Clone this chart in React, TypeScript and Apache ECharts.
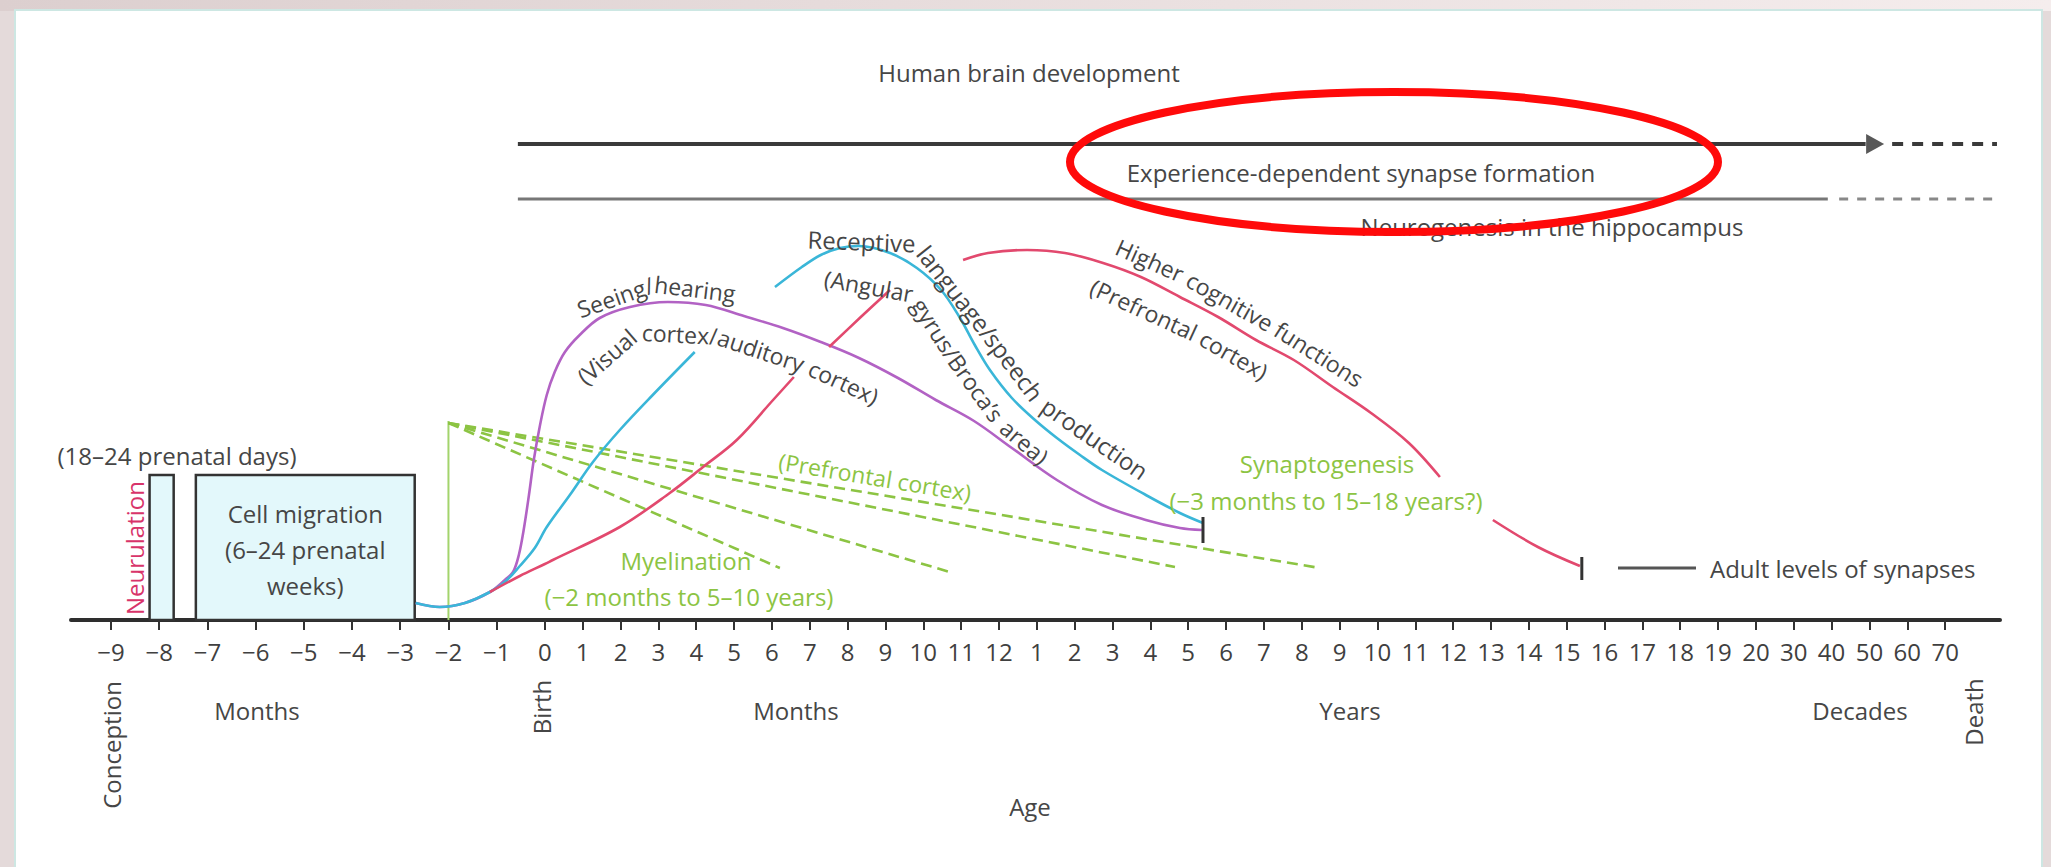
import React, { useEffect, useRef } from 'react';
import * as echarts from 'echarts';

const W = 2051;
const H = 867;
const FONT = '"Open Sans", "Noto Sans", "DejaVu Sans", sans-serif';
const TEXT = '#464646';
const GREEN = '#8cc443';
const PURPLE = '#b262c4';
const BLUE = '#3ab6d8';
const RED = '#e2496e';

// x values: negative = prenatal months; >= 0 = postnatal tick position
// (0 birth, 1–12 months, 13–32 = 1–20 years, 33–37 = 30–70 years)
const PRENATAL_STRETCH = 48.2 / 37.84;
const pos = (a: number) => (a < 0 ? a * PRENATAL_STRETCH : a);
const axisStart = -9.83;
const axisEnd = 38.45;

const prenatalTicks = [-9, -8, -7, -6, -5, -4, -3, -2, -1];
const prenatalTickLabels = ['−9', '−8', '−7', '−6', '−5', '−4', '−3', '−2', '−1'];
const postnatalTickLabels = [
  '0', '1', '2', '3', '4', '5', '6', '7', '8', '9', '10', '11', '12',
  '1', '2', '3', '4', '5', '6', '7', '8', '9', '10', '11', '12', '13', '14', '15', '16', '17', '18', '19', '20',
  '30', '40', '50', '60', '70',
];

// Seeing/hearing (visual / auditory cortex)
const seeingAge = [-2.68, -2.18, -1.66, -1.14, -0.83, -0.66, -0.54, -0.44, -0.33, -0.23, -0.1, 0.05, 0.26, 0.53, 0.92, 1.45, 2.25, 3.25, 4.25, 5.26, 6.29, 7.29, 8.3, 9.33, 10.33, 11.34, 12.34, 13.53, 14.72, 15.88, 16.78, 17.36];
const seeingLevel = [3.4, 2.6, 3.4, 5.6, 8, 9.6, 13, 18, 25, 32, 39, 45, 49.6, 53.6, 57, 60.4, 62.6, 63.6, 63, 60.8, 58.4, 55.6, 52.4, 48.4, 44, 39.8, 34.4, 28, 23, 20, 18.4, 18];

// Receptive language / speech production
const languageAge = [-2.68, -2.18, -1.66, -1.14, -0.83, -0.52, -0.21, 0.05, 0.66, 1.27, 1.98, 2.85, 3.96, 5.0, 6.08, 6.79, 7.29, 7.8, 8.3, 9.12, 9.83, 10.47, 10.97, 11.36, 11.76, 12.34, 12.95, 13.53, 14.14, 14.72, 15.88, 16.78, 17.39];
const languageLevel = [3.4, 2.6, 3.4, 5.6, 7.6, 10.8, 14.4, 18.6, 25, 31.6, 38, 45, 53.6, NaN, 66.6, 70.6, 73, 74.4, 74.8, 73.4, 70.4, 66, 60.4, 55, 50, 44.4, 40, 36.4, 33, 30, 25, 21.4, 19.4];

// Higher cognitive functions (prefrontal cortex)
const cognitiveAge = [-1.14, -0.52, 0, 0.21, 1.98, 3.3, 4.18, 5.07, 6.03, 6.58, 7.0, 7.51, 8.32, 9.12, 10.0, 11.05, 11.71, 12.74, 13.74, 14.75, 15.75, 16.78, 17.79, 18.79, 19.79, 20.82, 21.83, 22.83, 23.65, 24.3, 25.05, 26.24, 27.35];
const cognitiveLevel = [5.6, 8.8, 11.2, 12, 18.6, 25.4, 30.6, 36, 44, 48.6, NaN, 54.6, 60.4, 66, NaN, 72, 73.4, 74, 73.4, 71.4, 68.6, 64.6, 60.6, 56, 52, 46.6, 41.4, 35.4, 28.6, NaN, 20, 14.6, 10.8];

// Myelination fan
const myelinStartAge = -2;
const myelinStartLevel = 39.4;
const myelinTopLevel = 39.8;
const myelinEndAge = [6.21, 10.7, 16.65, 20.48];
const myelinEndLevel = [10.4, 9.6, 10.6, 10.4];

// Plateau (adult level) markers
const plateauAge = [17.39, 27.4];
const plateauLow = [15.4, 8];
const plateauHigh = [20.6, 12.6];

// Prenatal boxes
const boxNames = ['Neurulation', 'Cell migration'];
const boxStart = [-8.2, -7.24];
const boxEnd = [-7.7, -2.7];
const boxHeight = [29, 29];

// Timelines
const timelineStart = -0.56;
const experienceLevel = 95.2;
const experienceEnd = 34.9;
const experienceArrow = 35.15;
const experienceDashStart = 35.6;
const neurogenesisLevel = 84.2;
const neurogenesisEnd = 33.9;
const neurogenesisDashStart = 34.2;
const timelineDashEnd = 38.37;

const tickValues = [...prenatalTicks.map(pos), ...postnatalTickLabels.map((_, i) => i)];
const tickText = [...prenatalTickLabels, ...postnatalTickLabels];
const tickMap = new Map<string, string>();
tickValues.forEach((v, i) => tickMap.set(v.toFixed(3), tickText[i]));

const toData = (ages: number[], levels: number[]) =>
  ages.map((a, i) => (Number.isNaN(levels[i]) ? [pos(a), '-'] : [pos(a), levels[i]]));

const curve = (name: string, ages: number[], levels: number[], color: string) => ({
  type: 'line',
  name,
  data: toData(ages, levels),
  smooth: 0.35,
  symbol: 'none',
  silent: true,
  z: 4,
  lineStyle: { color, width: 2.6 },
});

const seg = (data: number[][], color: string, width: number, type: any = 'solid', z = 3) => ({
  type: 'line',
  data,
  symbol: 'none',
  silent: true,
  z,
  lineStyle: { color, width, type },
});

function buildOption(): any {
  const series: any[] = [];
  series.push({
    type: 'custom',
    name: 'boxes',
    silent: true,
    z: 2,
    encode: { x: [0, 1], y: [2, 3] },
    data: boxNames.map((n, i) => [pos(boxStart[i]), pos(boxEnd[i]), 0, boxHeight[i]]),
    renderItem: (params: any, api: any) => {
      const p0 = api.coord([api.value(0), api.value(3)]);
      const p1 = api.coord([api.value(1), api.value(2)]);
      const children: any[] = [
        {
          type: 'rect',
          shape: { x: p0[0], y: p0[1], width: p1[0] - p0[0], height: p1[1] - p0[1] },
          style: { fill: '#e3f8fb', stroke: '#333', lineWidth: 2.5 },
        },
      ];
      if (params.dataIndex === 1) {
        children.push({
          type: 'text',
          style: {
            text: 'Cell migration\n(6–24 prenatal\nweeks)',
            x: (p0[0] + p1[0]) / 2,
            y: (p0[1] + p1[1]) / 2 + 2,
            align: 'center',
            verticalAlign: 'middle',
            fontSize: 24,
            fontFamily: FONT,
            lineHeight: 36,
            fill: TEXT,
          },
        });
      }
      return { type: 'group', children };
    },
  });
  series.push(curve('Seeing/hearing', seeingAge, seeingLevel, PURPLE));
  series.push(curve('Receptive language', languageAge, languageLevel, BLUE));
  series.push(curve('Higher cognitive functions', cognitiveAge, cognitiveLevel, RED));
  series.push(seg([[pos(myelinStartAge), 0], [pos(myelinStartAge), myelinTopLevel]], '#a3d46c', 2));
  myelinEndAge.forEach((a, i) => {
    series.push(seg([[pos(myelinStartAge), myelinStartLevel], [pos(a), myelinEndLevel[i]]], GREEN, 2.6, [11, 6]));
  });
  plateauAge.forEach((a, i) => {
    series.push(seg([[pos(a), plateauLow[i]], [pos(a), plateauHigh[i]]], '#333', 3, 'solid', 5));
  });
  series.push(seg([[pos(timelineStart), experienceLevel], [pos(experienceEnd), experienceLevel]], '#3a3a3a', 4));
  series.push({
    type: 'scatter',
    data: [[pos(experienceArrow), experienceLevel]],
    symbol: 'triangle',
    symbolSize: [20, 18],
    symbolRotate: -90,
    silent: true,
    itemStyle: { color: '#2e2e2e' },
  });
  series.push(seg([[pos(experienceDashStart), experienceLevel], [pos(timelineDashEnd), experienceLevel]], '#3a3a3a', 4, [11, 9]));
  series.push(seg([[pos(timelineStart), neurogenesisLevel], [pos(neurogenesisEnd), neurogenesisLevel]], '#777', 3));
  series.push(seg([[pos(neurogenesisDashStart), neurogenesisLevel], [pos(timelineDashEnd), neurogenesisLevel]], '#888', 3, [9, 9]));

  return {
    animation: false,
    backgroundColor: '#e4dada',
    grid: { left: 71, right: W - 2000, top: 40, bottom: H - 620, containLabel: false },
    xAxis: {
      type: 'value',
      min: pos(axisStart),
      max: axisEnd,
      axisLine: { onZero: false, lineStyle: { color: '#2e2e2e', width: 4 } },
      axisTick: { customValues: tickValues, length: 10, lineStyle: { color: '#333', width: 2 } },
      axisLabel: {
        customValues: tickValues,
        interval: 0,
        margin: 19,
        fontSize: 24,
        fontFamily: FONT,
        color: '#404040',
        formatter: (v: number) => tickMap.get(v.toFixed(3)) ?? '',
      },
      splitLine: { show: false },
    },
    yAxis: { type: 'value', min: 0, max: 116, show: false },
    series,
  };
}

function catmull(pts: number[][], steps = 12) {
  const out: number[][] = [];
  const f = (a: number, b: number, c: number, d: number, t: number) => {
    const t2 = t * t, t3 = t2 * t;
    return 0.5 * (2 * b + (-a + c) * t + (2 * a - 5 * b + 4 * c - d) * t2 + (-a + 3 * b - 3 * c + d) * t3);
  };
  for (let i = 0; i < pts.length - 1; i++) {
    const p0 = pts[Math.max(0, i - 1)], p1 = pts[i], p2 = pts[i + 1], p3 = pts[Math.min(pts.length - 1, i + 2)];
    for (let k = 0; k < steps; k++) {
      const t = k / steps;
      out.push([f(p0[0], p1[0], p2[0], p3[0], t), f(p0[1], p1[1], p2[1], p3[1], t)]);
    }
  }
  out.push(pts[pts.length - 1]);
  return out;
}

let measureCtx: CanvasRenderingContext2D | null = null;
function measure(text: string, size: number) {
  if (!measureCtx) measureCtx = document.createElement('canvas').getContext('2d');
  measureCtx!.font = `${size}px ${FONT}`;
  return measureCtx!.measureText(text).width;
}

function labelAlong(ptsPx: number[][], text: string, startPx: number, offset: number, size: number, color: string, key: string) {
  const dense = catmull(ptsPx, 10);
  const off = dense.map((p, i) => {
    const a = dense[Math.max(0, i - 1)], b = dense[Math.min(dense.length - 1, i + 1)];
    const dx = b[0] - a[0], dy = b[1] - a[1];
    const l = Math.hypot(dx, dy) || 1;
    return [p[0] + (dy / l) * offset, p[1] - (dx / l) * offset];
  });
  const cum: number[] = [0];
  for (let i = 1; i < off.length; i++) cum.push(cum[i - 1] + Math.hypot(off[i][0] - off[i - 1][0], off[i][1] - off[i - 1][1]));
  let si = dense.findIndex((p) => p[0] >= startPx);
  if (si < 0) si = 0;
  const s0 = cum[si];
  const at = (s: number) => {
    if (s <= 0) return off[0];
    for (let i = 1; i < cum.length; i++) {
      if (cum[i] >= s) {
        const t = (s - cum[i - 1]) / (cum[i] - cum[i - 1] || 1);
        return [off[i - 1][0] + t * (off[i][0] - off[i - 1][0]), off[i - 1][1] + t * (off[i][1] - off[i - 1][1])];
      }
    }
    const n = off.length;
    const d = [off[n - 1][0] - off[n - 2][0], off[n - 1][1] - off[n - 2][1]];
    const l = Math.hypot(d[0], d[1]) || 1;
    const extra = s - cum[n - 1];
    return [off[n - 1][0] + (d[0] / l) * extra, off[n - 1][1] + (d[1] / l) * extra];
  };
  const tokens: { t: string; space: boolean }[] = [];
  text.split(' ').forEach((w) => {
    const parts = w.split(/(?<=\/)/);
    parts.forEach((p, i) => tokens.push({ t: p, space: i === parts.length - 1 }));
  });
  const spaceW = measure(' ', size);
  let s = s0;
  let prevAng: number | null = null;
  const els: any[] = [];
  const chordAngle = (s1: number, w: number) => {
    const a = at(s1), b = at(s1 + w);
    return { a, b, ang: Math.atan2(b[1] - a[1], b[0] - a[0]) };
  };
  tokens.forEach((tk, i) => {
    const w = measure(tk.t, size);
    let c = chordAngle(s, w);
    if (prevAng !== null) {
      const gap = 0.5 * size * Math.tan(Math.min(Math.abs(c.ang - prevAng), 1.2) / 2);
      if (gap > 0.5) {
        s += gap;
        c = chordAngle(s, w);
      }
    }
    els.push({
      type: 'text',
      id: `${key}-${i}`,
      x: (c.a[0] + c.b[0]) / 2,
      y: (c.a[1] + c.b[1]) / 2,
      rotation: -c.ang,
      z: 50,
      silent: true,
      style: { text: tk.t, fontSize: size, fontFamily: FONT, fill: color, align: 'center', verticalAlign: 'middle' },
    });
    prevAng = c.ang;
    s += w + (tk.space ? spaceW : 0);
  });
  return els;
}

let idc = 0;
const txt = (text: string, x: number, y: number, opts: any = {}) => ({
  type: 'text',
  id: `t${idc++}`,
  x,
  y,
  rotation: opts.rotation ?? 0,
  z: 50,
  silent: true,
  style: {
    text,
    fontSize: opts.size ?? 24,
    fontFamily: FONT,
    fill: opts.color ?? TEXT,
    align: opts.align ?? 'center',
    verticalAlign: 'middle',
  },
});

function staticGraphics(): any[] {
  return [
    {
      type: 'rect', id: 'topbar', z: -20, silent: true,
      shape: { x: 0, y: 0, width: W, height: 11 },
      style: { fill: new echarts.graphic.LinearGradient(0, 0, 1, 0, [{ offset: 0, color: '#dccfcf' }, { offset: 1, color: '#f5eded' }]) },
    },
    {
      type: 'rect', id: 'panel', z: -10, silent: true,
      shape: { x: 15, y: 10, width: 2027, height: H },
      style: { fill: '#ffffff', stroke: '#cde7e3', lineWidth: 2 },
    },
    txt('Human brain development', 1029, 72),
    txt('Experience-dependent synapse formation', 1361, 172),
    txt('Neurogenesis in the hippocampus', 1552, 226),
    txt('(18–24 prenatal days)', 177, 455),
    txt('Neurulation', 134, 548, { rotation: Math.PI / 2, color: '#d8346a' }),
    txt('Myelination', 686, 560, { color: GREEN }),
    txt('(−2 months to 5–10 years)', 689, 596, { color: GREEN }),
    txt('Synaptogenesis', 1327, 463, { color: GREEN }),
    txt('(−3 months to 15–18 years?)', 1326, 500, { color: GREEN }),
    {
      type: 'line', id: 'adultline', z: 50, silent: true,
      shape: { x1: 1618, y1: 568, x2: 1696, y2: 568 },
      style: { stroke: '#555', lineWidth: 3 },
    },
    txt('Adult levels of synapses', 1710, 568, { align: 'left' }),
    txt('Conception', 111, 745, { rotation: Math.PI / 2 }),
    txt('Months', 257, 710),
    txt('Birth', 541, 707, { rotation: Math.PI / 2 }),
    txt('Months', 796, 710),
    txt('Years', 1350, 710),
    txt('Decades', 1860, 710),
    txt('Death', 1973, 712, { rotation: Math.PI / 2 }),
    txt('Age', 1030, 806),
    {
      type: 'ellipse', id: 'ring', z: 60, silent: true,
      shape: { cx: 1394, cy: 162, rx: 324, ry: 70 },
      style: { fill: 'none', stroke: '#ff0a0a', lineWidth: 8 },
    },
  ];
}

export default function App() {
  const ref = useRef<HTMLDivElement>(null);
  useEffect(() => {
    const chart = echarts.init(ref.current!, null, { renderer: 'svg' });
    chart.setOption(buildOption());
    const toPx = (a: number, v: number) => chart.convertToPixel({ gridIndex: 0 }, [pos(a), v]) as number[];
    const pathOf = (ages: number[], levels: number[]) =>
      ages.map((a, i) => (Number.isNaN(levels[i]) ? null : toPx(a, levels[i]))).filter((p) => p) as number[][];
    const seeingPx = pathOf(seeingAge, seeingLevel);
    const languagePx = pathOf(languageAge, languageLevel);
    const cognitivePx = pathOf(cognitiveAge, cognitiveLevel);
    const myelinPx = [toPx(myelinStartAge, myelinStartLevel), toPx(myelinEndAge[3], myelinEndLevel[3])];
    const sx = (a: number) => toPx(a, 0)[0];
    const labels = [
      ...labelAlong(seeingPx, 'Seeing/hearing', sx(1.2), 19, 23, TEXT, 'l1'),
      ...labelAlong(seeingPx, '(Visual cortex/auditory cortex)', sx(0.3), -27, 23, TEXT, 'l2'),
      ...labelAlong(languagePx, 'Receptive language/speech production', sx(7.2), 19, 24, TEXT, 'l3'),
      ...labelAlong(languagePx, '(Angular gyrus/Broca’s area)', sx(7.1), -24, 23, TEXT, 'l4'),
      ...labelAlong(cognitivePx, 'Higher cognitive functions', sx(14.9), 21, 23, TEXT, 'l5'),
      ...labelAlong(cognitivePx, '(Prefrontal cortex)', sx(14.6), -25, 23, TEXT, 'l6'),
      ...labelAlong(myelinPx, '(Prefrontal cortex)', sx(4.15), 17, 23, GREEN, 'l7'),
    ];
    chart.setOption({ graphic: { elements: [...staticGraphics(), ...labels] } });
    return () => chart.dispose();
  }, []);
  return <div ref={ref} style={{ position: 'absolute', left: 0, top: 0, width: W, height: H }} />;
}
